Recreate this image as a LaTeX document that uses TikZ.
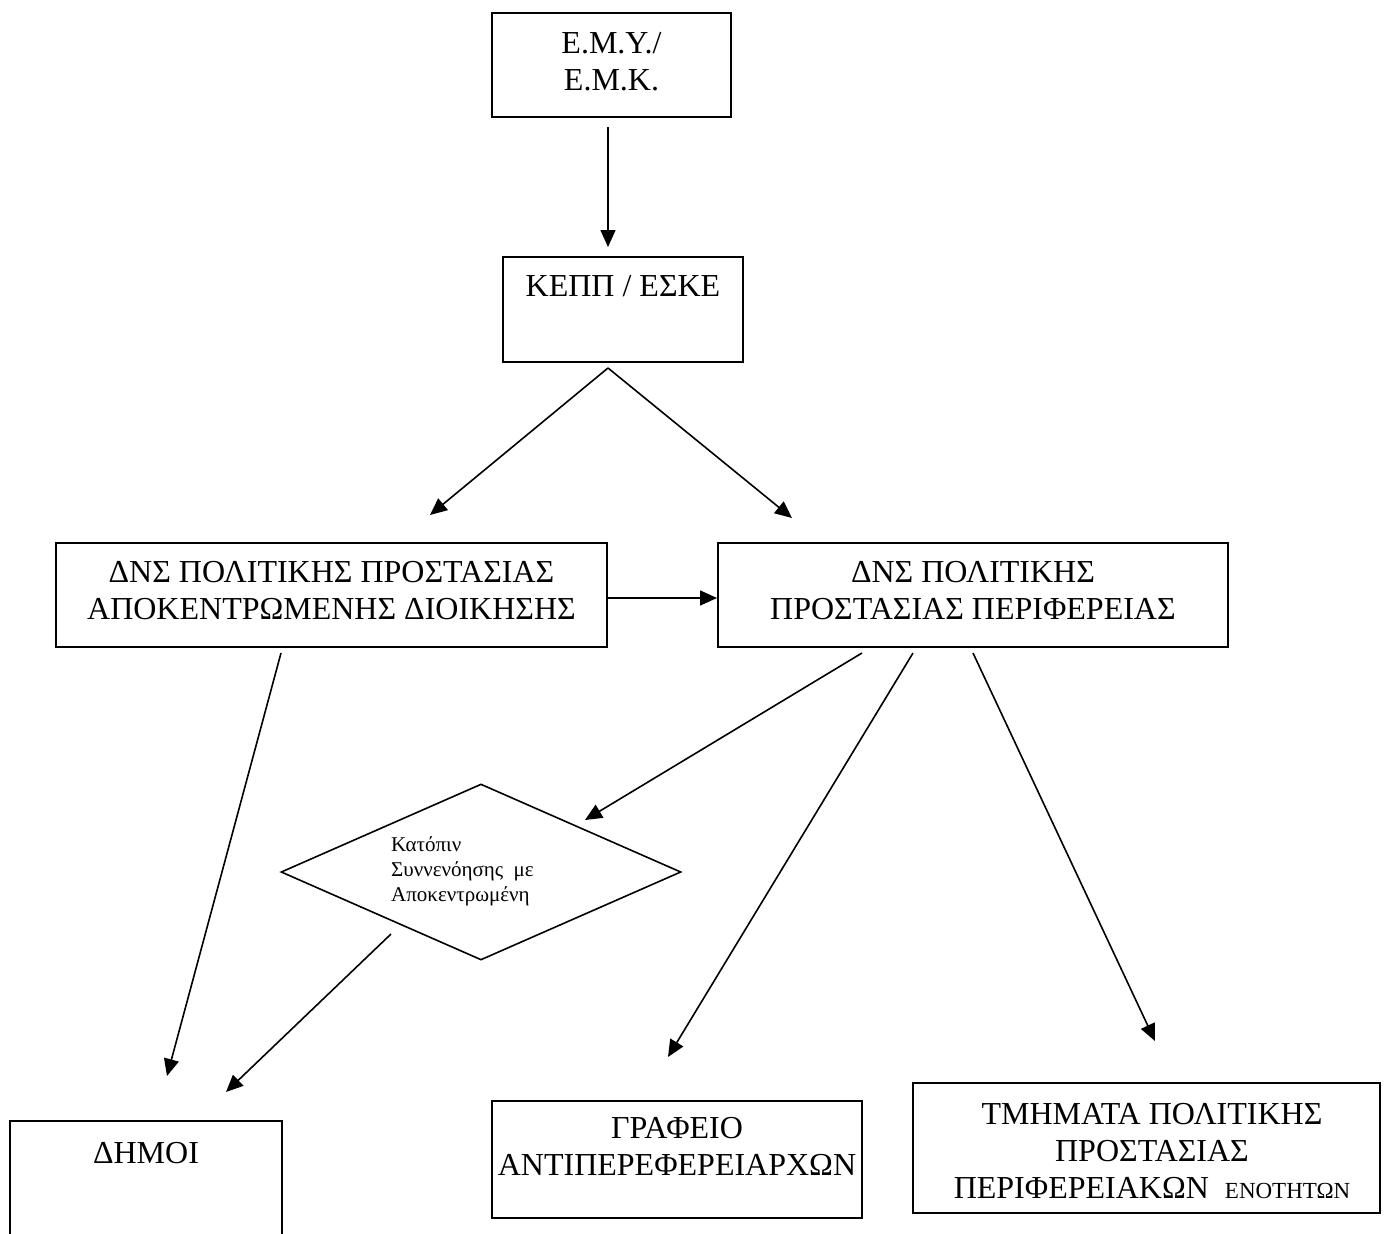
\documentclass[tikz,border=0pt]{standalone}
\usepackage{fontspec}
\setmainfont{Liberation Serif}
\usetikzlibrary{arrows.meta,shapes.geometric}
\begin{document}
\begin{tikzpicture}[x=1pt,y=-1pt,
  box/.style={draw, line width=2pt, rectangle, inner sep=0pt},
  lbl/.style={inner sep=0pt, align=center, font=\fontsize{32}{37}\selectfont},
  smalllbl/.style={inner sep=0pt, align=left, font=\fontsize{21}{25}\selectfont},
  arr/.style={line width=1.6pt, -{Triangle[length=17pt,width=15pt]}}]
\useasboundingbox (0,0) rectangle (1390,1234);

% boxes
\node[box, minimum width=239pt, minimum height=104pt] (emy) at (611.5,65) {};
\node[box, minimum width=240pt, minimum height=105pt] (kepp) at (623,309.5) {};
\node[box, minimum width=551pt, minimum height=104pt] (dap) at (331.5,595) {};
\node[box, minimum width=510pt, minimum height=104pt] (dpp) at (973,595) {};
\node[box, minimum width=370pt, minimum height=117pt] (graf) at (677,1159.5) {};
\node[box, minimum width=467pt, minimum height=130pt] (tmim) at (1146.5,1148) {};
\node[inner sep=0pt, minimum width=272pt, minimum height=120pt] (dimoi) at (146,1181) {};
\draw[line width=2pt] (dimoi.south west) -- (dimoi.north west) -- (dimoi.north east) -- (dimoi.south east);
\node[draw, diamond, line width=1.6pt, inner sep=0pt, minimum width=400pt, minimum height=176pt] (cond) at (481,872) {};

% labels
\node[lbl] (temy) at (611.5,62) {Ε.Μ.Υ./\\Ε.Μ.Κ.};
\node[lbl] (tkepp) at (623,286) {ΚΕΠΠ / ΕΣΚΕ};
\node[lbl] (tdap) at (331.5,591) {ΔΝΣ ΠΟΛΙΤΙΚΗΣ ΠΡΟΣΤΑΣΙΑΣ\\ΑΠΟΚΕΝΤΡΩΜΕΝΗΣ ΔΙΟΙΚΗΣΗΣ};
\node[lbl] (tdpp) at (973,591) {ΔΝΣ ΠΟΛΙΤΙΚΗΣ\\ΠΡΟΣΤΑΣΙΑΣ ΠΕΡΙΦΕΡΕΙΑΣ};
\node[lbl] (tgraf) at (677,1146) {ΓΡΑΦΕΙΟ\\ΑΝΤΙΠΕΡΕΦΕΡΕΙΑΡΧΩΝ};
\node[lbl] (ttmim) at (1152,1151) {ΤΜΗΜΑΤΑ ΠΟΛΙΤΙΚΗΣ\\ΠΡΟΣΤΑΣΙΑΣ\\ΠΕΡΙΦΕΡΕΙΑΚΩΝ\ \ {\fontsize{23}{37}\selectfont ΕΝΟΤΗΤΩΝ}};
\node[lbl] (tdimoi) at (146,1153) {ΔΗΜΟΙ};
\node[smalllbl, anchor=west] (tcond) at (391,871) {Κατόπιν\\Συννενόησης\ \ με\\Αποκεντρωμένη};

% connector end points
\coordinate (a1s) at (608,127);  \coordinate (a1e) at (608,247);
\coordinate (b0) at (608,368);   \coordinate (bl) at (430,515);  \coordinate (br) at (792,518);
\coordinate (c1s) at (281,653);  \coordinate (c1e) at (167,1076);
\coordinate (c2s) at (862,653);  \coordinate (c2e) at (585,820);
\coordinate (c3s) at (913,653);  \coordinate (c3e) at (668,1057);
\coordinate (c4s) at (973,653);  \coordinate (c4e) at (1155,1041);
\coordinate (c5s) at (391,934);  \coordinate (c5e) at (226,1092);

% connectors
\draw[arr] (a1s) -- (a1e);
\draw[arr] (b0) -- (bl);
\draw[arr] (b0) -- (br);
\draw[arr] ([yshift=-3pt]dap.east) -- ([yshift=-3pt]dpp.west);
\draw[arr] (c1s) -- (c1e);
\draw[arr] (c2s) -- (c2e);
\draw[arr] (c3s) -- (c3e);
\draw[arr] (c4s) -- (c4e);
\draw[arr] (c5s) -- (c5e);
\end{tikzpicture}
\end{document}
